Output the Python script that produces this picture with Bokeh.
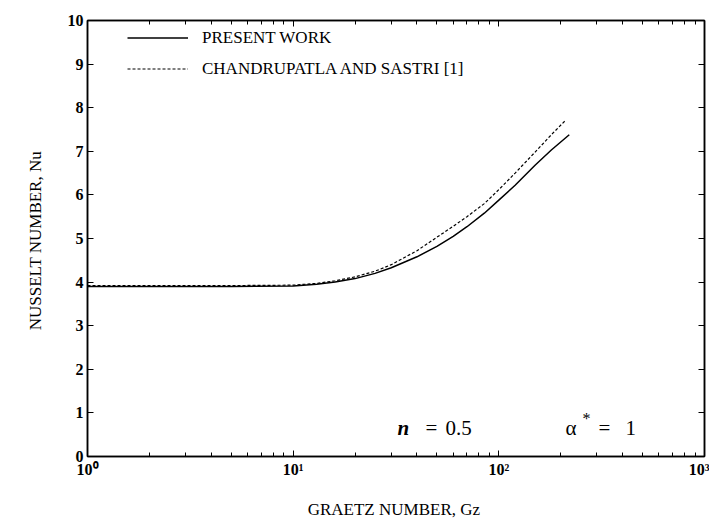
from bokeh.plotting import figure
from bokeh.models import (Range1d, LogAxis, LinearAxis, FixedTicker, Label,
                          Legend, LegendItem, CustomJSTickFormatter)
from bokeh.embed import file_html
from bokeh.resources import INLINE

# ---- data ----
gz_present = [1, 2, 5, 10, 13, 16, 20, 25, 30, 40, 50, 60, 70, 85, 100, 120, 150, 180, 220]
nu_present = [3.9, 3.9, 3.9, 3.91, 3.95, 4.0, 4.08, 4.2, 4.33, 4.58, 4.82, 5.05, 5.27,
              5.58, 5.88, 6.22, 6.68, 7.03, 7.38]

gz_chandru = [1, 2, 5, 10, 13, 16, 20, 25, 30, 40, 50, 60, 70, 85, 100, 120, 150, 180, 210]
nu_chandru = [3.92, 3.92, 3.92, 3.93, 3.97, 4.03, 4.12, 4.25, 4.4, 4.72, 5.03, 5.28, 5.5,
              5.8, 6.12, 6.5, 6.98, 7.38, 7.7]

x_major = [1, 10, 100, 1000]
x_major_labels = ["10\u2070", "10\u00b9", "10\u00b2", "10\u00b3"]
y_major = [0, 1, 2, 3, 4, 5, 6, 7, 8, 9, 10]

FONT = "Liberation Serif"

x_minor = [k * 10 ** d for d in range(3) for k in range(2, 10)]

p = figure(width=709, height=524, x_axis_type="log",
           x_range=Range1d(1, 1000), y_range=Range1d(0, 10),
           output_backend="svg", toolbar_location=None,
           min_border_left=87, min_border_right=5, min_border_top=20,
           min_border_bottom=68)
p.grid.visible = False
p.outline_line_color = "black"
p.outline_line_width = 1.5
p.background_fill_color = "white"
p.border_fill_color = "white"

def style_axis(ax):
    ax.axis_line_color = "black"
    ax.axis_line_width = 1.5
    ax.major_tick_line_color = "black"
    ax.minor_tick_line_color = "black"
    ax.major_tick_in = 6
    ax.major_tick_out = 0
    ax.minor_tick_in = 4
    ax.minor_tick_out = 0
    ax.major_label_text_font = FONT
    ax.major_label_text_font_style = "bold"
    ax.major_label_text_font_size = "16px"
    ax.major_label_text_color = "black"
    ax.axis_label_text_font = FONT
    ax.axis_label_text_font_size = "17px"
    ax.axis_label_text_font_style = "normal"
    ax.axis_label_text_color = "black"

xa = p.xaxis[0]
xa.ticker = FixedTicker(ticks=x_major, minor_ticks=x_minor)
xa.major_label_overrides = {t: s for t, s in zip(x_major, x_major_labels)}
style_axis(xa)
xa.major_label_standoff = 4
xa.axis_label = "GRAETZ NUMBER,  Gz"
xa.axis_label_standoff = 19

ya = p.yaxis[0]
ya.ticker = FixedTicker(ticks=y_major)
style_axis(ya)
ya.major_label_standoff = 4
ya.axis_label = "NUSSELT NUMBER,  Nu"
ya.axis_label_standoff = 20

blank = CustomJSTickFormatter(code="return ''")
top = LogAxis(ticker=FixedTicker(ticks=x_major, minor_ticks=x_minor), formatter=blank)
style_axis(top)
top.major_label_standoff = 0
p.add_layout(top, "above")

right = LinearAxis(ticker=FixedTicker(ticks=y_major), formatter=blank)
style_axis(right)
right.major_label_standoff = 0
p.add_layout(right, "right")

r1 = p.line(gz_present, nu_present, line_color="black", line_width=1.5)
r2 = p.line(gz_chandru, nu_chandru, line_color="black", line_width=1.2, line_dash="3 2")

legend = Legend(items=[LegendItem(label="PRESENT WORK", renderers=[r1]),
                       LegendItem(label="CHANDRUPATLA AND SASTRI [1]", renderers=[r2])],
                location=(35, 372), glyph_width=61, glyph_height=21, label_height=21,
                spacing=10, padding=5, label_standoff=14,
                label_text_font=FONT, label_text_font_size="17px",
                label_text_color="black",
                border_line_alpha=0, background_fill_alpha=0)
p.add_layout(legend)

# parameter annotations
ann = dict(text_font=FONT, text_font_size="21px", text_baseline="alphabetic",
           text_align="left", text_color="black")
p.add_layout(Label(x=32.2, y=0.665, text="n", text_font_style="bold italic", **ann))
p.add_layout(Label(x=32.2, y=0.665, x_offset=28, text="=", **ann))
p.add_layout(Label(x=32.2, y=0.665, x_offset=48, text="0.5", **ann))
p.add_layout(Label(x=211, y=0.665, text="\u03b1", **ann))
p.add_layout(Label(x=211, y=0.665, x_offset=17, y_offset=9, text="*",
                   text_font=FONT, text_font_size="16px", text_baseline="alphabetic",
                   text_align="left", text_color="black"))
p.add_layout(Label(x=211, y=0.665, x_offset=33, text="=", **ann))
p.add_layout(Label(x=211, y=0.665, x_offset=60, text="1", **ann))

open("out.html", "w").write(file_html(p, INLINE))
